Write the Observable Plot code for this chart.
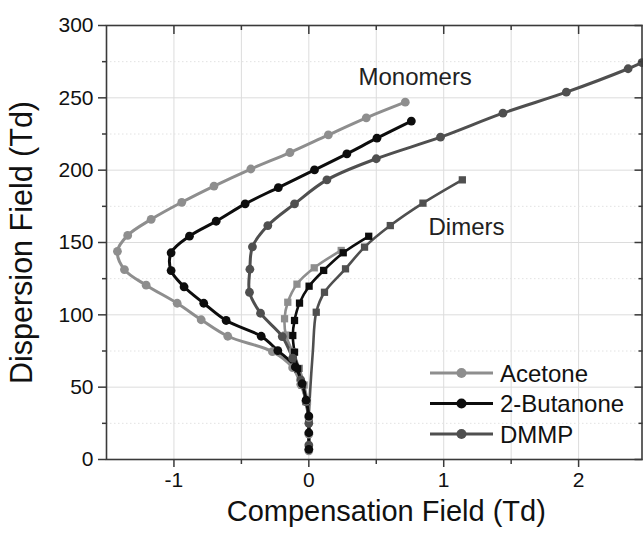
<!DOCTYPE html>
<html><head><meta charset="utf-8">
<script src="https://cdn.jsdelivr.net/npm/d3@7"></script>
<script src="https://cdn.jsdelivr.net/npm/@observablehq/plot@0.6"></script>
<style>
body{margin:0;background:#fff}
#chart{position:relative;width:643px;height:536px;overflow:hidden}
#chart svg{font-family:"Liberation Sans",Arial,sans-serif}
</style>
</head><body><div id="chart"></div>
<script>
// ---- data ----
const seriesNames = ["Acetone", "2-Butanone", "DMMP"];
const seriesColors = ["#8e8e8e", "#0d0d0d", "#4f4f4f"];

// Monomer branches (Compensation Field, Dispersion Field)
const acetoneMonoX = [0.715, 0.426, 0.145, -0.140, -0.430, -0.703, -0.942, -1.169, -1.343, -1.419, -1.367, -1.206, -0.976, -0.798, -0.601, -0.27, -0.12, -0.06, -0.02, 0.0, 0.0, 0.0];
const acetoneMonoY = [247.0, 236.2, 224.4, 212.2, 200.8, 189.0, 177.8, 166.0, 154.9, 143.9, 131.3, 120.5, 108.0, 96.6, 85.2, 74.5, 63.5, 52.0, 40.5, 29.0, 17.5, 6.0];

const butanoneMonoX = [0.760, 0.505, 0.282, 0.042, -0.226, -0.472, -0.687, -0.885, -1.021, -1.021, -0.925, -0.779, -0.613, -0.353, -0.23, -0.10, -0.05, -0.02, 0.0, 0.0, 0.0];
const butanoneMonoY = [233.9, 222.1, 211.3, 200.2, 188.0, 176.7, 164.7, 154.4, 142.9, 130.6, 119.4, 108.0, 96.1, 85.2, 75.3, 64.0, 52.5, 41.0, 30.0, 18.5, 7.0];

const dmmpMonoX = [2.47, 2.367, 1.909, 1.439, 0.976, 0.500, 0.134, -0.106, -0.304, -0.418, -0.437, -0.44, -0.358, -0.197, -0.12, -0.06, -0.02, 0.0, 0.0];
const dmmpMonoY = [274.3, 270.1, 253.9, 239.4, 222.8, 207.9, 193.3, 176.7, 161.7, 147.0, 131.5, 115.6, 101.1, 85.0, 70.0, 55.0, 40.0, 25.0, 10.0];

// Dimer branches
const acetoneDimX = [0.240, 0.040, -0.088, -0.156, -0.180, -0.17, -0.12, -0.07, -0.035, -0.01, 0.0];
const acetoneDimY = [144.5, 132.5, 121.2, 108.7, 97.3, 86.0, 74.5, 63.0, 51.5, 40.0, 28.5];

const butanoneDimX = [0.444, 0.255, 0.110, 0.002, -0.069, -0.106, -0.119, -0.106, -0.082, -0.05, -0.02, 0.0];
const butanoneDimY = [154.3, 142.9, 130.7, 119.8, 108.1, 96.1, 85.7, 74.2, 62.7, 51.5, 40.0, 28.5];

const dmmpDimX = [1.138, 0.846, 0.604, 0.413, 0.272, 0.116, 0.055];
const dmmpDimY = [193.3, 177.2, 161.7, 146.8, 131.8, 115.6, 101.8];
// path of the DMMP dimer line below its last marker (line only)
const dmmpDimTailX = [0.03, 0.013, 0.0, 0.0];
const dmmpDimTailY = [75.0, 52.0, 29.0, 5.0];

// axes
const xTicks = [-1, 0, 1, 2];
const xMinorTicks = [-0.5, 0.5, 1.5];
const xGrid = [-1, -0.5, 0, 0.5, 1, 1.5, 2];
const yTicks = [0, 50, 100, 150, 200, 250, 300];
const yMinorTicks = [25, 75, 125, 175, 225, 275];
const yGrid = [50, 100, 150, 200, 250];
const xLabel = "Compensation Field (Td)";
const yLabel = "Dispersion Field (Td)";
const annotations = ["Monomers", "Dimers"];

// ---- build tables ----
function rows(name, kind, xs, ys) {
  return xs.map((x, i) => ({series: name, kind, key: name + "-" + kind, x, y: ys[i]}));
}
const monoRows = [
  ...rows("Acetone", "mono", acetoneMonoX, acetoneMonoY),
  ...rows("2-Butanone", "mono", butanoneMonoX, butanoneMonoY),
  ...rows("DMMP", "mono", dmmpMonoX, dmmpMonoY)
];
const dimRows = [
  ...rows("Acetone", "dim", acetoneDimX, acetoneDimY),
  ...rows("2-Butanone", "dim", butanoneDimX, butanoneDimY),
  ...rows("DMMP", "dim", dmmpDimX, dmmpDimY)
];
const dimLineRows = [...dimRows, ...rows("DMMP", "dim", dmmpDimTailX, dmmpDimTailY)];

const order = ["DMMP", "Acetone", "2-Butanone"];
const byOrder = (a) => order.flatMap(s => a.filter(d => d.series === s));

const font = "Liberation Sans, Arial, sans-serif";
const axisColor = "#3a3a3a";

const chart = Plot.plot({
  width: 643,
  height: 536,
  marginLeft: 106,
  marginRight: 1.5,
  marginTop: 25,
  marginBottom: 77,
  style: {fontFamily: font, background: "#fff", overflow: "visible"},
  x: {domain: [-1.5, 2.47]},
  y: {domain: [0, 300]},
  color: {domain: seriesNames, range: seriesColors},
  marks: [
    Plot.ruleX(xGrid, {stroke: "#dcdcdc", strokeWidth: 1}),
    Plot.ruleY(yGrid, {stroke: "#dcdcdc", strokeWidth: 1}),
    Plot.ruleY(yMinorTicks, {stroke: "#e2e2e2", strokeWidth: 1, strokeDasharray: "1.5,2.5"}),
    Plot.line(byOrder(dimLineRows), {x: "x", y: "y", z: "key", stroke: "series", strokeWidth: 2.6, curve: "catmull-rom", clip: true}),
    Plot.line(byOrder(monoRows), {x: "x", y: "y", z: "key", stroke: "series", strokeWidth: 3, curve: "catmull-rom", clip: true}),
    Plot.dot(byOrder(dimRows), {x: "x", y: "y", fill: "series", symbol: "square", r: 4.1}),
    Plot.dot(byOrder(monoRows), {x: "x", y: "y", fill: "series", r: 4.4}),
    Plot.frame({stroke: axisColor, strokeWidth: 1.6}),
    // bottom axis
    Plot.axisX(xTicks, {anchor: "bottom", tickSize: 8, tickPadding: 5, fontSize: 21, fill: "#111", stroke: axisColor, strokeWidth: 1.5, tickFormat: d => String(d), label: null}),
    Plot.axisX(xMinorTicks, {anchor: "bottom", tickSize: 5, stroke: axisColor, strokeWidth: 1.5, text: null, label: null}),
    // top axis (inward ticks)
    Plot.axisX(xTicks, {anchor: "top", tickSize: 8, dy: 8, stroke: axisColor, strokeWidth: 1.5, text: null, label: null}),
    Plot.axisX(xMinorTicks, {anchor: "top", tickSize: 4, dy: 4, stroke: axisColor, strokeWidth: 1.5, text: null, label: null}),
    // left axis
    Plot.axisY(yTicks, {anchor: "left", tickSize: 8, tickPadding: 5, fontSize: 21, fill: "#111", stroke: axisColor, strokeWidth: 1.5, tickFormat: d => String(d), label: null}),
    Plot.axisY(yMinorTicks, {anchor: "left", tickSize: 4, stroke: axisColor, strokeWidth: 1.5, text: null, label: null}),
    // right axis (inward ticks)
    Plot.axisY(yTicks, {anchor: "right", tickSize: 8, dx: -8, stroke: axisColor, strokeWidth: 1.5, text: null, label: null}),
    Plot.axisY(yMinorTicks, {anchor: "right", tickSize: 4, dx: -4, stroke: axisColor, strokeWidth: 1.5, text: null, label: null}),
    // axis titles
    Plot.text([xLabel], {frameAnchor: "bottom", dx: 12, dy: 52, fontSize: 29, fill: "#111", lineAnchor: "middle"}),
    Plot.text([yLabel], {frameAnchor: "left", dx: -84, rotate: -90, textAnchor: "middle", fontSize: 30.5, fill: "#111", lineAnchor: "middle"}),
    // annotations
    Plot.text([annotations[0]], {frameAnchor: "top-left", dx: 252, dy: 52, textAnchor: "start", fontSize: 24, fill: "#222", lineAnchor: "middle"}),
    Plot.text([annotations[1]], {frameAnchor: "top-left", dx: 322, dy: 202, textAnchor: "start", fontSize: 24, fill: "#222", lineAnchor: "middle"})
  ]
});

document.getElementById("chart").appendChild(chart);

// legend (inside plot, lower right)
const svg = d3.select(chart);
const lg = svg.append("g").attr("font-family", font).attr("text-anchor", "start");
seriesNames.forEach((name, i) => {
  const yy = 373 + i * 30.5;
  lg.append("line").attr("x1", 430).attr("x2", 493).attr("y1", yy).attr("y2", yy)
    .attr("stroke", seriesColors[i]).attr("stroke-width", 3);
  lg.append("circle").attr("cx", 461.5).attr("cy", yy).attr("r", 5).attr("fill", seriesColors[i]);
  lg.append("text").attr("x", 500).attr("y", yy).attr("dy", "0.36em").attr("text-anchor", "start")
    .attr("font-size", 24).attr("fill", "#111").text(name);
});
</script>
</body></html>
